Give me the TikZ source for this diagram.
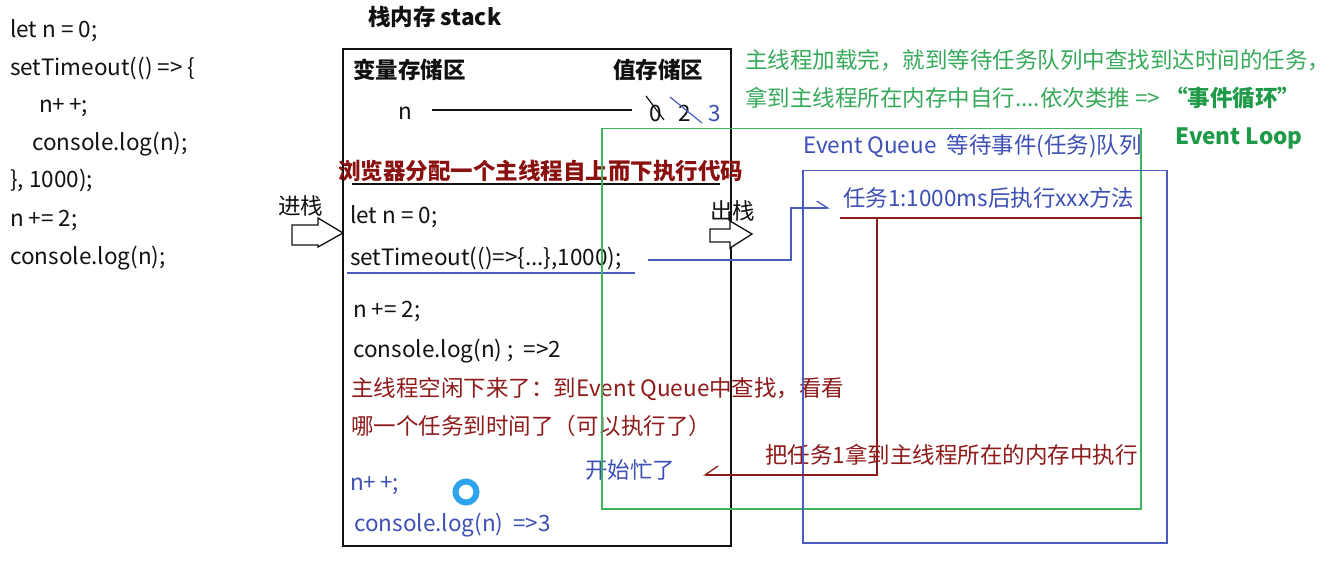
\documentclass[tikz,border=0pt]{standalone}
\usepackage{fontspec}
\setmainfont{Noto Sans CJK SC}
\usetikzlibrary{arrows.meta}
\definecolor{gtxt}{HTML}{36A95A}
\definecolor{gbold}{HTML}{1E9A48}
\definecolor{gline}{HTML}{3DB45E}
\definecolor{btxt}{HTML}{3E4FB5}
\definecolor{bline}{HTML}{4A5CC0}
\definecolor{rtxt}{HTML}{8E1A1A}
\definecolor{rbold}{HTML}{8B1111}
\definecolor{spin}{HTML}{2EA3EE}
\definecolor{ink}{HTML}{111111}
\newcommand\myfs{\fontsize{22.5pt}{27pt}\selectfont}
\tikzset{
  lbl/.style={anchor=base west, inner sep=0pt, font=\myfs, text=ink},
  bld/.style={font=\myfs\bfseries},
  boxnode/.style={draw, anchor=north west, inner sep=0pt, line width=1.5pt},
  blockarrow/.style={draw=ink, line width=1.3pt, fill=white},
}
\begin{document}
\begin{tikzpicture}[x=1pt,y=-1pt]
\useasboundingbox[fill=white] (0,0) rectangle (1340,588);
% left code
\node[lbl] (c1) at (10,38) {let n = 0;};
\node[lbl] (c2) at (10,76) {setTimeout(() => \{};
\node[lbl] (c3) at (39,113) {n+\,+;};
\node[lbl] (c4) at (32,151) {console.log(n);};
\node[lbl] (c5) at (10,188) {\}, 1000);};
\node[lbl] (c6) at (10,226) {n += 2;};
\node[lbl] (c7) at (10,264) {console.log(n);};
% stack
\node[lbl,bld] (sttl) at (368,26) {栈内存 stack};
\node[boxnode, draw=ink, minimum width=388pt, minimum height=497pt, line width=1.8pt] (stack) at (342,48) {};
\node[lbl,bld] (vars) at (353,79) {变量存储区};
\node[lbl,bld] (vals) at (613,79) {值存储区};
\node[lbl] (nvar) at (398,120) {n};
\node[lbl] (v0) at (649,122) {0};
\node[lbl] (v2) at (678,122) {2};
\node[lbl, text=btxt] (v3) at (708,122) {3};
\coordinate (la) at (432,110);
\coordinate (lb) at (632,110);
\draw[ink, line width=1.2pt] (la) -- (lb);
\draw[ink, line width=1.2pt] (646,96) -- (664,120);
\draw[bline, line width=1.2pt] (670,97) -- (702,123);
% main thread title
\node[lbl,bld,text=rbold] (main) at (338,180) {浏览器分配一个主线程自上而下执行代码};
\draw[ink, line width=1.5pt] (352,184) -- (720,184);
% push arrow
\node[lbl] (jin) at (278,214) {进栈};
\draw[blockarrow] (292,225) -- (318,225) -- (318,218) -- (343,233) -- (318,247) -- (318,245) -- (292,245) -- cycle;
\node[lbl] (s1) at (350,223) {let n = 0;};
\node[lbl] (s2) at (350,265) {setTimeout(()=>\{...\},1000);};
\draw[bline, line width=1.3pt] (347,273) -- (635,273);
% pop arrow
\node[lbl] (chu) at (710,219) {出栈};
\draw[blockarrow] (710,229) -- (730,229) -- (730,221) -- (752,234) -- (730,248) -- (730,242) -- (710,242) -- cycle;
\node[lbl] (s3) at (353,317) {n += 2;};
\node[lbl] (s4) at (353,357) {console.log(n) ;\ \ =>2};
\node[lbl,text=rtxt] (s5) at (351,396) {主线程空闲下来了：到Event Queue中查找，看看};
\node[lbl,text=rtxt] (s6) at (351,434) {哪一个任务到时间了（可以执行了）};
\node[lbl,text=btxt] (s7) at (350,490) {n+\,+;};
\node[lbl,text=btxt] (s8) at (354,531) {console.log(n)\ \ =>3};
\draw[spin, line width=6pt] (466,492) circle[radius=10.5pt];
\node[lbl,text=btxt] (busy) at (585,478) {开始忙了};
\node[lbl,text=rtxt] (take) at (765,463) {把任务1拿到主线程所在的内存中执行};
% green note
\node[lbl,text=gtxt] (g1) at (745,69) {主线程加载完，就到等待任务队列中查找到达时间的任务，};
\node[lbl,text=gtxt] (g2) at (745,107) {拿到主线程所在内存中自行....依次类推 => \textcolor{gbold}{\bfseries “事件循环”}};
\node[lbl,bld,text=gbold] (loop) at (1175,145) {Event Loop};
% event queue
\node[boxnode, draw=gline, minimum width=539pt, minimum height=380pt] (gbox) at (601,128) {};
\node[boxnode, draw=bline, minimum width=364pt, minimum height=372pt] (bbox) at (802,170) {};
\node[lbl,text=btxt] (eq) at (803,154) {Event Queue\ \ 等待事件(任务)队列};
\node[lbl,text=btxt] (task) at (843,207) {任务1:1000ms后执行xxx方法};
\coordinate (tu1) at (840,218);
\coordinate (tu2) at (1142,218);
\draw[rtxt, line width=1.5pt] (tu1) -- (tu2);
% connectors
\coordinate (bs) at (648,260);
\coordinate (bt) at (830,208);
\draw[bline, line width=1.3pt, -{Straight Barb[harpoon, length=11pt, width=14pt]}] (bs) -- (791,260) -- (791,208) -- (bt);
\coordinate (rs) at (877,218);
\coordinate (rt) at (703,475);
\draw[rtxt, line width=1.3pt, -{Straight Barb[harpoon, swap, length=13pt, width=18pt]}] (rs) -- (877,475) -- (rt);
\end{tikzpicture}
\end{document}
